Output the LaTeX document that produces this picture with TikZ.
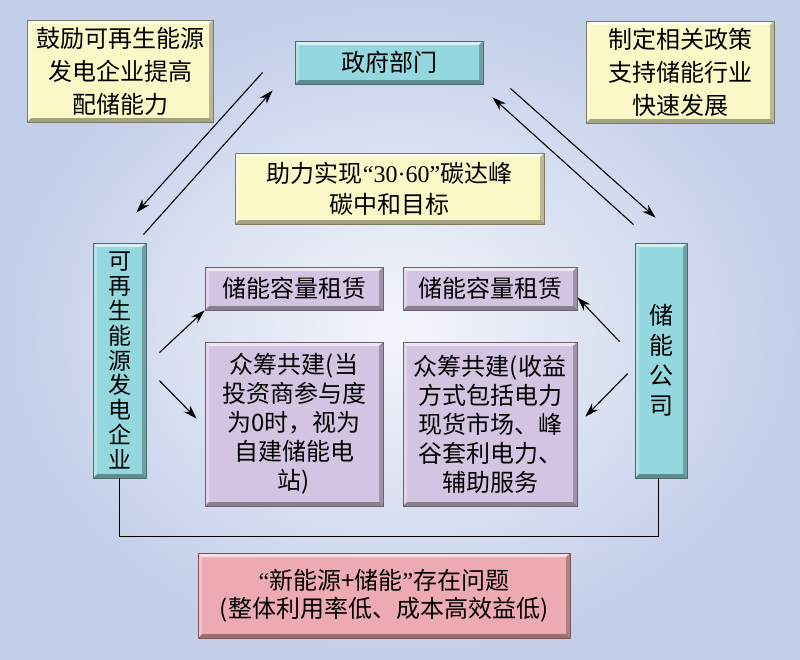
\documentclass[tikz,border=0pt]{standalone}
\usepackage{fontspec}
\setmainfont{Noto Sans CJK SC}
\newfontfamily\latinfont{Liberation Serif}
\usetikzlibrary{arrows.meta,calc}
\definecolor{tealbox}{HTML}{92D8DE}
\definecolor{yellowbox}{HTML}{FAF8C6}
\definecolor{purplebox}{HTML}{D3C4E2}
\definecolor{pinkbox}{HTML}{EEAAB3}
\definecolor{bgin}{HTML}{F4F6FC}
\definecolor{bgout}{HTML}{C3CEE9}
\tikzset{
	bevel/.style={fill=#1, draw=#1!50!black, line width=0.8pt, align=center, inner sep=0pt, path picture={
		\fill[white,opacity=0.6] (path picture bounding box.north west) -- (path picture bounding box.north east) -- ([shift={(-4pt,-4pt)}]path picture bounding box.north east) -- ([shift={(4pt,-4pt)}]path picture bounding box.north west) -- cycle;
		\fill[white,opacity=0.3] (path picture bounding box.north west) -- ([shift={(4pt,-4pt)}]path picture bounding box.north west) -- ([shift={(4pt,4pt)}]path picture bounding box.south west) -- (path picture bounding box.south west) -- cycle;
		\fill[black,opacity=0.35] (path picture bounding box.south west) -- ([shift={(4pt,4pt)}]path picture bounding box.south west) -- ([shift={(-4pt,4pt)}]path picture bounding box.south east) -- (path picture bounding box.south east) -- cycle;
		\fill[black,opacity=0.25] (path picture bounding box.south east) -- ([shift={(-4pt,4pt)}]path picture bounding box.south east) -- ([shift={(-4pt,-4pt)}]path picture bounding box.north east) -- (path picture bounding box.north east) -- cycle;
	}},
	txt/.style={font=\fontsize{24}{#1}\selectfont},
	arr/.style={-{Stealth[length=14pt,width=9pt]}, line width=1.1pt},
}

\begin{document}
\begin{tikzpicture}[x=1pt,y=-1pt]
		\useasboundingbox (0,0) rectangle (800,659);
		\shade[inner color=bgin, outer color=bgout] (0,0) rectangle (800,659);
		\node[bevel=yellowbox, txt=33, minimum width=186pt, minimum height=102pt] (enc) at (120,71) {鼓励可再生能源\\发电企业提高\\配储能力};
		\node[bevel=tealbox, txt=30, minimum width=188pt, minimum height=43pt] (gov) at (389,62.5) {政府部门};
		\node[bevel=yellowbox, txt=33, minimum width=188pt, minimum height=102pt] (policy) at (680,72) {制定相关政策\\支持储能行业\\快速发展};
		\node[bevel=yellowbox, txt=31, minimum width=309pt, minimum height=71pt] (goal) at (389.5,188.5) {助力实现{\latinfont “30·60”}碳达峰\\碳中和目标};
		\node[bevel=tealbox, font=\fontsize{23}{24.8}\selectfont, minimum width=53pt, minimum height=235pt] (renew) at (119.5,360.5) {可\\再\\生\\能\\源\\发\\电\\企\\业};
		\node[bevel=tealbox, txt=30, minimum width=52pt, minimum height=235pt] (store) at (661,360.5) {储\\能\\公\\司};
		\node[bevel=purplebox, txt=30, minimum width=178pt, minimum height=43pt] (leaseL) at (294,288.5) {储能容量租赁};
		\node[bevel=purplebox, txt=29, minimum width=178pt, minimum height=164pt] (crowdL) at (294,424) {众筹共建(当\\投资商参与度\\为0时，视为\\自建储能电\\站)};
		\node[bevel=purplebox, txt=30, minimum width=174pt, minimum height=43pt] (leaseR) at (490,288.5) {储能容量租赁};
		\node[bevel=purplebox, txt=29, minimum width=174pt, minimum height=164pt] (crowdR) at (490,424) {众筹共建(收益\\方式包括电力\\现货市场、峰\\谷套利电力、\\辅助服务};
		\node[bevel=pinkbox, txt=28, minimum width=372pt, minimum height=85pt] (issue) at (384,595.5) {{\latinfont “}新能源+储能{\latinfont ”}存在问题\\(整体利用率低、成本高效益低)};
		\draw[arr] ([shift={(-32,-12)}]gov.south west) -- ([shift={(-10,-30)}]renew.north east);
		\draw[arr] ([shift={(-3,-8)}]renew.north east) -- ([shift={(-22,6)}]gov.south west);
		\draw[arr] ([shift={(27,4)}]gov.south east) -- ([shift={(21,-25)}]store.north west);
		\draw[arr] ([shift={(-1,-18)}]store.north west) -- ([shift={(9,13)}]gov.south east);
		\draw[arr] ([shift={(13,110)}]renew.north east) -- (leaseL.south west);
		\draw[arr] ([shift={(13,138)}]renew.north east) -- ([shift={(-8,77)}]crowdL.north west);
		\draw[arr] ([shift={(-15,99)}]store.north west) -- ([shift={(0,-13)}]leaseR.south east);
		\draw[arr] ([shift={(-7,131)}]store.north west) -- ([shift={(8,75)}]crowdR.north east);
		\draw[line width=0.8pt] (renew.south) -- ++(0,58) -| ([xshift=-3pt]store.south);
	\end{tikzpicture}
\end{document}
